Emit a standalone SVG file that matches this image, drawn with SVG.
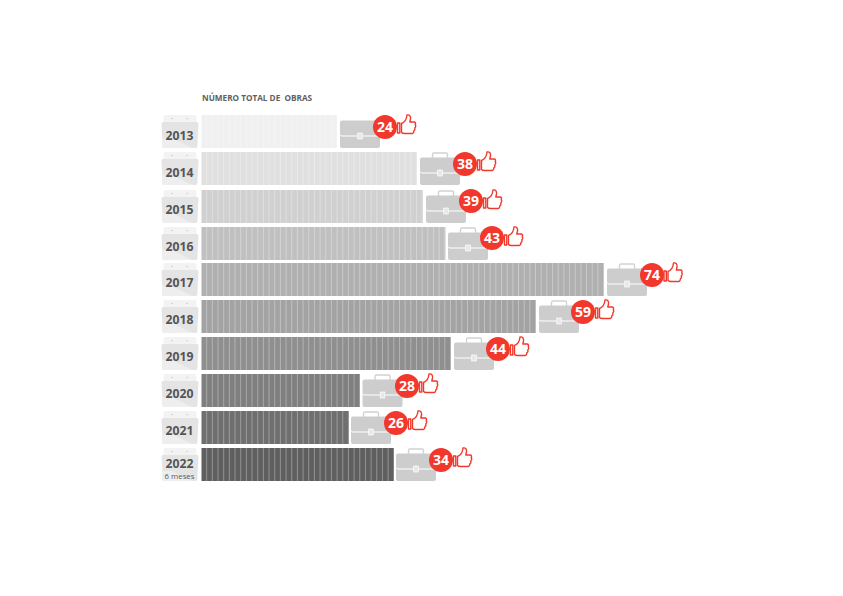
<svg xmlns="http://www.w3.org/2000/svg" width="843" height="596" viewBox="0 0 843 596">
<style>
text{font-family:"Open Sans","Liberation Sans",sans-serif;font-weight:700}
.yr{font-size:12.2px;fill:#555;text-anchor:middle}
.n{font-size:14px;fill:#fff;text-anchor:middle}
.t{font-size:8.2px;fill:#616161;white-space:pre}
.s{font-size:7.8px;font-weight:400;fill:#5a5a5a;text-anchor:middle}
.c{fill:#f2382c}
.sl{fill:none;stroke:#fff;stroke-opacity:.32;stroke-width:33;stroke-dasharray:1 4.67;stroke-dashoffset:-4.67}
</style>
<defs>
<g id="cal">
<path d="M163.500 2a2 2 0 0 1 2-2h29a2 2 0 0 1 2 2v8h-33z" fill="#f3f3f3"/>
<circle cx="172" cy="3.500" r=".8" fill="#c9c9c9"/><circle cx="187" cy="3.500" r=".8" fill="#c9c9c9"/>
<path d="M163 7h34q1.500 0 1.500 1.500L197.500 26v5a2 2 0 0 1-2 2h-31a2 2 0 0 1-2-2v-5L161.500 8.500q0-1.500 1.500-1.500z" fill="#e4e4e4"/>
<path d="M172 23l20 10h-28a2 2 0 0 1-2-2v-8z" fill="#eeeeee"/>
</g>
<g id="body">
<path d="M2 5.500h36a2 2 0 0 1 2 2v11q0 2-2 2H2q-2 0-2-2v-11a2 2 0 0 1 2-2z" fill="#cdcdcd"/>
<path d="M0 19.500q0 2 2 2h36q2 0 2-2V31a2 2 0 0 1-2 2H2a2 2 0 0 1-2-2z" fill="#cdcdcd"/>
<rect x="17.700" y="18" width="4.600" height="6" fill="#e8e8e8" stroke="#fff" stroke-width=".7"/>
</g>
<g id="case">
<path d="M12.500 6V2.500a1.500 1.500 0 0 1 1.500-1.500h12a1.500 1.500 0 0 1 1.500 1.500V6" fill="none" stroke="#d2d2d2" stroke-width="1.400"/>
<use href="#body"/>
</g>
<g id="thumb" fill="#fff" stroke="#f2382c" stroke-width="1.400" stroke-linejoin="round">
<rect x="0" y="8" width="2.300" height="10"/>
<path d="M4 8.500c3-1 5-3.500 5.500-8.500 2.500-.5 4 1 3.500 4l-.7 3h4.200c1.500 0 2 1.500 1.200 2.800 .8 1 .6 2.500-.4 3.100 .4 1 0 2.300-1 2.900 .2 1.300-.6 2.700-2 2.700H7q-2 0-3-1z"/>
</g>
</defs>
<text class="t" x="202" y="101">NÚMERO TOTAL DE  OBRAS</text>
<g id="row-2013"><use href="#cal" y="115"/><text class="yr" x="179.500" y="139.500">2013</text><rect x="201.500" y="115" width="135.500" height="33" fill="#f0f0f0"/><path class="sl" d="M201.500 131.500H337"/><use href="#body" x="340" y="115"/><circle class="c" cx="385" cy="127" r="12"/><text class="n" x="385" y="132">24</text><use href="#thumb" x="397.500" y="115"/></g>
<g id="row-2014"><use href="#cal" y="152"/><text class="yr" x="179.500" y="176.500">2014</text><rect x="201.500" y="152" width="215.500" height="33" fill="#e0e0e0"/><path class="sl" d="M201.500 168.500H417"/><use href="#case" x="420" y="152"/><circle class="c" cx="465" cy="164" r="12"/><text class="n" x="465" y="169">38</text><use href="#thumb" x="477.500" y="152"/></g>
<g id="row-2015"><use href="#cal" y="190"/><text class="yr" x="179.500" y="213.500">2015</text><rect x="201.500" y="190" width="221.500" height="33" fill="#d0d0d0"/><path class="sl" d="M201.500 206.500H423"/><use href="#case" x="426" y="190"/><circle class="c" cx="471" cy="201" r="12"/><text class="n" x="471" y="206">39</text><use href="#thumb" x="483.500" y="190"/></g>
<g id="row-2016"><use href="#cal" y="227"/><text class="yr" x="179.500" y="250.500">2016</text><rect x="201.500" y="227" width="244" height="33" fill="#c0c0c0"/><path class="sl" d="M201.500 243.500H445.500"/><use href="#case" x="448" y="227"/><circle class="c" cx="492" cy="238" r="12"/><text class="n" x="492" y="243">43</text><use href="#thumb" x="504.500" y="227"/></g>
<g id="row-2017"><use href="#cal" y="263"/><text class="yr" x="179.500" y="286.500">2017</text><rect x="201.500" y="263" width="402.500" height="33" fill="#b0b0b0"/><path class="sl" d="M201.500 279.500H604"/><use href="#case" x="607" y="263"/><circle class="c" cx="652" cy="275" r="12"/><text class="n" x="652" y="280">74</text><use href="#thumb" x="664" y="263"/></g>
<g id="row-2018"><use href="#cal" y="300"/><text class="yr" x="179.500" y="323.500">2018</text><rect x="201.500" y="300" width="334.500" height="33" fill="#a3a3a3"/><path class="sl" d="M201.500 316.500H536"/><use href="#case" x="539" y="300"/><circle class="c" cx="583" cy="312" r="12"/><text class="n" x="583" y="317">59</text><use href="#thumb" x="595.500" y="300"/></g>
<g id="row-2019"><use href="#cal" y="337"/><text class="yr" x="179.500" y="360.500">2019</text><rect x="201.500" y="337" width="249.500" height="33" fill="#8f8f8f"/><path class="sl" d="M201.500 353.500H451"/><use href="#case" x="454" y="337"/><circle class="c" cx="498" cy="349" r="12"/><text class="n" x="498" y="354">44</text><use href="#thumb" x="510.500" y="337"/></g>
<g id="row-2020"><use href="#cal" y="374"/><text class="yr" x="179.500" y="397.500">2020</text><rect x="201.500" y="374" width="158.500" height="33" fill="#7f7f7f"/><path class="sl" d="M201.500 390.500H360"/><use href="#case" x="362.500" y="374"/><circle class="c" cx="407" cy="386" r="12"/><text class="n" x="407" y="391">28</text><use href="#thumb" x="419.500" y="374"/></g>
<g id="row-2021"><use href="#cal" y="411"/><text class="yr" x="179.500" y="434.500">2021</text><rect x="201.500" y="411" width="147.500" height="33" fill="#6f6f6f"/><path class="sl" d="M201.500 427.500H349"/><use href="#case" x="351" y="411"/><circle class="c" cx="396" cy="423" r="12"/><text class="n" x="396" y="428">26</text><use href="#thumb" x="408.500" y="411"/></g>
<g id="row-2022"><use href="#cal" y="448"/><text class="yr" x="179.500" y="468">2022</text><text class="s" x="179.500" y="478.500">6 meses</text><rect x="201.500" y="448" width="192.500" height="33" fill="#5f5f5f"/><path class="sl" d="M201.500 464.500H394"/><use href="#case" x="396" y="448"/><circle class="c" cx="441" cy="460" r="12"/><text class="n" x="441" y="465">34</text><use href="#thumb" x="453.500" y="448"/></g>
</svg>
